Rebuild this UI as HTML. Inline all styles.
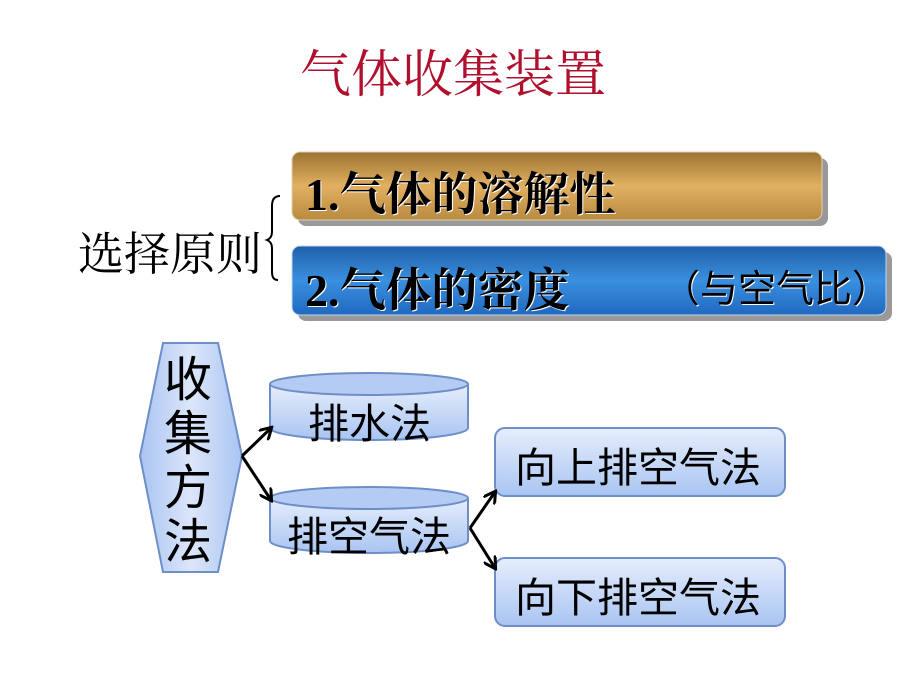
<!DOCTYPE html>
<html><head><meta charset="utf-8"><style>
body{margin:0;width:920px;height:690px;background:#fff;position:relative;overflow:hidden;font-family:"Liberation Serif","Noto Serif CJK SC","Noto Sans CJK SC",serif;}
.t{position:absolute;white-space:nowrap;}
</style></head><body>
<div class="t" style="left:300px;top:33px;font-size:51px;color:#B0102E;font-family:'Noto Serif CJK SC',serif;">气体收集装置</div>
<div class="t" style="left:78px;top:218px;font-size:46px;color:#000;font-family:'Noto Serif CJK SC',serif;">选择原则</div>
<svg width="920" height="690" style="position:absolute;left:0;top:0">
<defs>
<linearGradient id="gold" x1="0" y1="0" x2="0" y2="1"><stop offset="0" stop-color="#9A7332"/><stop offset="0.5" stop-color="#E2B060"/><stop offset="1" stop-color="#B88A40"/></linearGradient>
<linearGradient id="blue" x1="0" y1="0" x2="0" y2="1"><stop offset="0" stop-color="#1E5FA8"/><stop offset="0.5" stop-color="#3A90E0"/><stop offset="1" stop-color="#2068C0"/></linearGradient>
<linearGradient id="lb" x1="0" y1="0" x2="0" y2="1"><stop offset="0" stop-color="#E6EEFC"/><stop offset="1" stop-color="#A9C4F2"/></linearGradient>
<linearGradient id="hx" x1="0" y1="0" x2="1" y2="0"><stop offset="0" stop-color="#A9C4F2"/><stop offset="0.5" stop-color="#DCE6FA"/><stop offset="1" stop-color="#A9C4F2"/></linearGradient>
<marker id="ar" markerWidth="14" markerHeight="14" refX="11" refY="7" orient="auto" markerUnits="userSpaceOnUse"><path d="M0,0 L12,7 L0,14" fill="none" stroke="#000" stroke-width="3"/></marker>
</defs>
<rect x="298" y="158" width="530" height="68" rx="8" fill="#999"/>
<rect x="292" y="152" width="530" height="68" rx="8" fill="url(#gold)" stroke="#E0D0B0"/>
<rect x="298" y="252" width="594" height="69" rx="8" fill="#999"/>
<rect x="292" y="246" width="594" height="69" rx="8" fill="url(#blue)" stroke="#C0D8F0"/>
<path d="M280,196 Q272,196 272,206 L272,232 Q272,238 267,240 Q272,242 272,248 L272,272 Q272,280 278,280" fill="none" stroke="#000" stroke-width="2"/>
<polygon points="163,343 218,343 242,456 218,572 163,572 140,456" fill="url(#hx)" stroke="#6E8EC8" stroke-width="2"/>
<path d="M270,384 L270,428 A99,12 0 0 0 468,428 L468,384" fill="url(#lb)" stroke="#6E8EC8" stroke-width="2"/>
<ellipse cx="369" cy="384" rx="99" ry="11" fill="#B4CCF4" stroke="#6E8EC8" stroke-width="2"/>
<path d="M270,498 L270,541 A99,12 0 0 0 468,541 L468,498" fill="url(#lb)" stroke="#6E8EC8" stroke-width="2"/>
<ellipse cx="369" cy="498" rx="99" ry="11" fill="#B4CCF4" stroke="#6E8EC8" stroke-width="2"/>
<rect x="495" y="428" width="290" height="68" rx="10" fill="url(#lb)" stroke="#6E8EC8" stroke-width="2"/>
<rect x="495" y="558" width="290" height="68" rx="10" fill="url(#lb)" stroke="#6E8EC8" stroke-width="2"/>
<g stroke="#000" stroke-width="3" fill="none">
<line x1="242" y1="456" x2="271" y2="428" marker-end="url(#ar)"/>
<line x1="242" y1="456" x2="271" y2="500" marker-end="url(#ar)"/>
<line x1="470" y1="528" x2="495" y2="492" marker-end="url(#ar)"/>
<line x1="470" y1="528" x2="495" y2="568" marker-end="url(#ar)"/>
</g>
</svg>
<div class="t" style="left:305px;top:158px;font-size:46px;color:#000;text-shadow:1px 1px 0 #fff;font-weight:bold;">1.气体的溶解性</div>
<div class="t" style="left:305px;top:254px;font-size:46px;color:#000;text-shadow:1px 1px 0 #fff;font-weight:bold;">2.气体的密度</div>
<div class="t" style="left:662px;top:258px;font-size:38px;color:#000;text-shadow:1px 1px 0 #fff;font-family:'Noto Sans CJK SC',sans-serif;">（与空气比）</div>
<div class="t" style="left:164px;top:348px;font-size:48px;line-height:54px;color:#000;white-space:normal;width:50px;font-family:'Noto Sans CJK SC',sans-serif;">收集方法</div>
<div class="t" style="left:308px;top:390px;font-size:41px;font-family:'Noto Sans CJK SC',sans-serif;">排水法</div>
<div class="t" style="left:287px;top:503px;font-size:41px;font-family:'Noto Sans CJK SC',sans-serif;">排空气法</div>
<div class="t" style="left:515px;top:434px;font-size:41px;font-family:'Noto Sans CJK SC',sans-serif;">向上排空气法</div>
<div class="t" style="left:515px;top:564px;font-size:41px;font-family:'Noto Sans CJK SC',sans-serif;">向下排空气法</div>
</body></html>
